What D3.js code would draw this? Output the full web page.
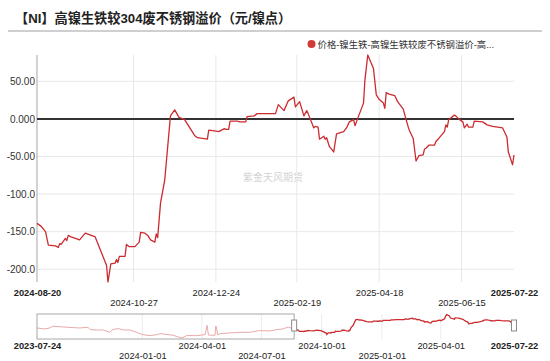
<!DOCTYPE html>
<html>
<head>
<meta charset="utf-8">
<script src="https://cdn.jsdelivr.net/npm/d3@7"></script>
<style>
  html, body { margin: 0; padding: 0; background: #fff; }
  svg { display: block; }
  text { font-family: "Liberation Sans", Arial, "Noto Sans CJK SC", sans-serif; }
</style>
</head>
<body>
<svg id="chart" width="550" height="361"></svg>
<script>
// ---------- DATA ----------
const mainDates = ["2024-08-20","2024-08-23","2024-08-26","2024-08-28","2024-09-02","2024-09-04","2024-09-05","2024-09-06","2024-09-09","2024-09-10","2024-09-11","2024-09-13","2024-09-19","2024-09-23","2024-09-30","2024-10-08","2024-10-09","2024-10-11","2024-10-14","2024-10-15","2024-10-16","2024-10-17","2024-10-21","2024-10-22","2024-10-24","2024-10-28","2024-10-31","2024-11-01","2024-11-04","2024-11-06","2024-11-08","2024-11-11","2024-11-12","2024-11-13","2024-11-15","2024-11-18","2024-11-22","2024-11-25","2024-11-28","2024-12-02","2024-12-05","2024-12-09","2024-12-11","2024-12-18","2024-12-19","2024-12-23","2024-12-26","2024-12-30","2024-12-31","2025-01-02","2025-01-03","2025-01-08","2025-01-10","2025-01-14","2025-01-15","2025-01-20","2025-01-22","2025-01-29","2025-02-04","2025-02-06","2025-02-10","2025-02-13","2025-02-17","2025-02-18","2025-02-21","2025-02-24","2025-02-26","2025-02-27","2025-03-03","2025-03-04","2025-03-06","2025-03-07","2025-03-10","2025-03-11","2025-03-12","2025-03-14","2025-03-17","2025-03-19","2025-03-24","2025-03-26","2025-03-28","2025-03-31","2025-04-01","2025-04-03","2025-04-07","2025-04-08","2025-04-10","2025-04-14","2025-04-16","2025-04-18","2025-04-21","2025-04-22","2025-04-23","2025-04-25","2025-04-29","2025-05-01","2025-05-05","2025-05-07","2025-05-09","2025-05-12","2025-05-14","2025-05-16","2025-05-19","2025-05-20","2025-05-21","2025-05-23","2025-05-27","2025-05-28","2025-05-30","2025-06-03","2025-06-04","2025-06-05","2025-06-06","2025-06-10","2025-06-11","2025-06-13","2025-06-16","2025-06-17","2025-06-19","2025-06-20","2025-06-23","2025-06-24","2025-06-30","2025-07-03","2025-07-07","2025-07-14","2025-07-15","2025-07-17","2025-07-18","2025-07-21","2025-07-22"];
const mainValues = [-139,-143,-150,-168,-169,-171,-166,-167,-159,-162,-155,-157,-161,-152,-157,-195,-217,-193,-192,-187,-191,-183,-183,-167,-170,-170,-164,-151,-152,-155,-161,-164,-153,-158,-112,-81,4,12,2,-1,-10,-22,-25,-27,-15,-16,-17,-13,-14,-14,-3,-3,-4,-4,3,4,7,7,7,19,11,24,29,16,23,4,11,7,-12,-10,-11,-27,-23,-27,-25,-37,-44,-20,-17,-12,-4,-1,-9,1,21,52,85,67,32,26,21,14,35,33,31,23,13,-1,-14,-26,-56,-49,-48,-40,-39,-35,-35,-30,-26,-17,-8,-11,-1,5,4,0,-4,-12,-7,-11,-11,-3,-4,-8,-10,-12,-16,-24,-44,-61,-48];

// earlier history shown only in the navigator
const histDates = ["2023-07-24","2023-08-05","2023-08-12","2023-08-17","2023-09-02","2023-09-27","2023-10-10","2023-10-13","2023-10-23","2023-11-02","2023-11-12","2023-11-17","2023-11-25","2023-12-03","2023-12-13","2023-12-23","2024-01-01","2024-01-13","2024-01-23","2024-01-28","2024-02-17","2024-03-01","2024-03-09","2024-03-24","2024-04-06","2024-04-09","2024-04-11","2024-04-21","2024-04-22","2024-04-23","2024-04-25","2024-04-29","2024-05-14","2024-05-29","2024-06-13","2024-06-28","2024-07-14","2024-07-24","2024-08-03","2024-08-11"];
const histValues = [-118,-133,-118,-92,-103,-118,-107,-142,-148,-148,-183,-142,-127,-148,-148,-183,-218,-233,-218,-203,-228,-269,-233,-233,-218,-77,-225,-228,-92,-95,-220,-203,-193,-183,-183,-157,-163,-142,-133,-103];

const yTicks = [50, 0, -50, -100, -150, -200];
const mainTickDates = ["2024-08-20","2024-10-27","2024-12-24","2025-02-19","2025-04-18","2025-06-15","2025-07-22"];
const navTickDates = ["2023-07-24","2024-01-01","2024-04-01","2024-07-01","2024-10-01","2025-01-01","2025-04-01","2025-07-22"];

const titleText = "【NI】高镍生铁较304废不锈钢溢价（元/镍点）";
const legendText = "价格-镍生铁-高镍生铁较废不锈钢溢价-高...";
const watermarkText = "紫金天风期货";

// ---------- DRAW ----------
(function draw() {
const parse = d3.utcParse("%Y-%m-%d");
const fmtDate = d3.utcFormat("%Y-%m-%d");
const mainData = mainDates.map((d, i) => ({date: parse(d), value: mainValues[i]}));
const histData = histDates.map((d, i) => ({date: parse(d), value: histValues[i]}));
const allData = histData.concat(mainData);

const svg = d3.select("#chart");
const red = "#cc2b2f";
const cjk = '"Noto Sans CJK SC", "Liberation Sans", sans-serif';

// title
svg.append("text").attr("x", 15).attr("y", 23)
  .attr("font-family", cjk).attr("font-weight", "bold").attr("font-size", 13.2)
  .attr("fill", "#222").text(titleText);
svg.append("line").attr("x1", 8).attr("x2", 542).attr("y1", 31).attr("y2", 31)
  .attr("stroke", "#cfcfcf").attr("stroke-width", 2);

// legend
svg.append("circle").attr("cx", 311.5).attr("cy", 44).attr("r", 4).attr("fill", "#d23a36");
svg.append("text").attr("x", 317.5).attr("y", 47.5)
  .attr("font-family", cjk).attr("font-size", 9.4).attr("fill", "#333").text(legendText);

// main scales
const pLeft = 37, pRight = 514, pTop = 55, pBottom = 282;
const x = d3.scaleUtc().domain([mainData[0].date, mainData[mainData.length - 1].date]).range([pLeft, pRight]);
const y = d3.scaleLinear().domain(d3.extent(mainValues)).range([pBottom, pTop]);

// watermark
svg.append("text").attr("x", 273).attr("y", 180.5).attr("text-anchor", "middle")
  .attr("font-family", cjk).attr("font-size", 10).attr("fill", "#d4d4d4").text(watermarkText);

// horizontal grid
svg.append("g").selectAll("line").data(yTicks.filter(v => v !== 0)).join("line")
  .attr("x1", pLeft).attr("x2", pRight).attr("y1", d => y(d)).attr("y2", d => y(d))
  .attr("stroke", "#e8e8e8").attr("stroke-width", 1);
// vertical grid
const mainTicks = mainTickDates.map(parse);
svg.append("g").selectAll("line").data(mainTicks.slice(1, -1)).join("line")
  .attr("x1", d => x(d)).attr("x2", d => x(d)).attr("y1", pTop).attr("y2", pBottom)
  .attr("stroke", "#e8e8e8").attr("stroke-width", 1);

// y axis
const yAxis = d3.axisLeft(y).tickValues(yTicks).tickSize(0).tickPadding(2)
  .tickFormat(v => d3.format(".4r")(v).replace("\u2212", "-"));
const gy = svg.append("g").attr("transform", `translate(${pLeft},0)`).call(yAxis);
gy.select(".domain").remove();
gy.selectAll("text").attr("font-size", 10).attr("fill", "#333")
  .attr("font-family", '"Liberation Sans", Arial, sans-serif');
svg.append("line").attr("x1", pLeft).attr("x2", pLeft).attr("y1", pTop).attr("y2", pBottom)
  .attr("stroke", "#b5b5b5").attr("stroke-width", 1.2);

// zero line
svg.append("line").attr("x1", pLeft).attr("x2", pRight).attr("y1", y(0)).attr("y2", y(0))
  .attr("stroke", "#333").attr("stroke-width", 2);

// main line
const line = d3.line().x(d => x(d.date)).y(d => y(d.value));
svg.append("path").datum(mainData).attr("d", line)
  .attr("fill", "none").attr("stroke", red).attr("stroke-width", 1.3).attr("stroke-linejoin", "round");

// x axis
const xAxis = d3.axisBottom(x).tickValues(mainTicks).tickSize(0).tickFormat(fmtDate);
const gx = svg.append("g").attr("transform", `translate(0,${pBottom})`).call(xAxis);
gx.select(".domain").remove();
gx.selectAll("text")
  .attr("font-size", 9.3).attr("fill", "#222")
  .attr("font-family", '"Liberation Sans", Arial, sans-serif')
  .attr("y", (d, i) => (i % 2 === 0 || i === mainTicks.length - 1) ? 13.5 : 24)
  .attr("dy", 0)
  .attr("font-weight", (d, i) => (i === 0 || i === mainTicks.length - 1) ? "bold" : "normal");

// ---------- NAVIGATOR ----------
const nTop = 314, nBottom = 339;
const nx = d3.scaleUtc().domain([allData[0].date, allData[allData.length - 1].date]).range([pLeft, pRight]);
const ny = d3.scaleLinear().domain(d3.extent(allData, d => d.value)).range([nBottom - 1, nTop + 0.5]);
const navTicks = navTickDates.map(parse);

svg.append("g").selectAll("line").data(navTicks.slice(1, -1)).join("line")
  .attr("x1", d => nx(d)).attr("x2", d => nx(d)).attr("y1", nTop).attr("y2", nBottom)
  .attr("stroke", "#ececec").attr("stroke-width", 1);

const nline = d3.line().x(d => nx(d.date)).y(d => ny(d.value));
svg.append("path").datum(histData.concat([mainData[0]])).attr("d", nline)
  .attr("fill", "none").attr("stroke", "#eaa9a9").attr("stroke-width", 1);
svg.append("path").datum(mainData).attr("d", nline)
  .attr("fill", "none").attr("stroke", red).attr("stroke-width", 1.3);

// mask box over unselected part
const selStart = nx(mainData[0].date), selEnd = nx(mainData[mainData.length - 1].date);
svg.append("rect").attr("x", pLeft).attr("y", nTop).attr("width", selStart - pLeft).attr("height", nBottom - nTop)
  .attr("fill", "none").attr("stroke", "#a8a8a8").attr("stroke-width", 1);
[selStart, selEnd].forEach(px => {
  svg.append("rect").attr("x", px - 2.5).attr("y", 320).attr("width", 5).attr("height", 11)
    .attr("fill", "#fff").attr("stroke", "#8a8a8a").attr("stroke-width", 1);
});

const nAxis = d3.axisBottom(nx).tickValues(navTicks).tickSize(0).tickFormat(fmtDate);
const gn = svg.append("g").attr("transform", `translate(0,${nBottom})`).call(nAxis);
gn.select(".domain").remove();
gn.selectAll("text")
  .attr("font-size", 9.3).attr("fill", "#222")
  .attr("font-family", '"Liberation Sans", Arial, sans-serif')
  .attr("y", (d, i) => (i % 2 === 0 || i === navTicks.length - 1) ? 9.5 : 19.5)
  .attr("dy", 0)
  .attr("font-weight", (d, i) => (i === 0 || i === navTicks.length - 1) ? "bold" : "normal");
})();
</script>
</body>
</html>
